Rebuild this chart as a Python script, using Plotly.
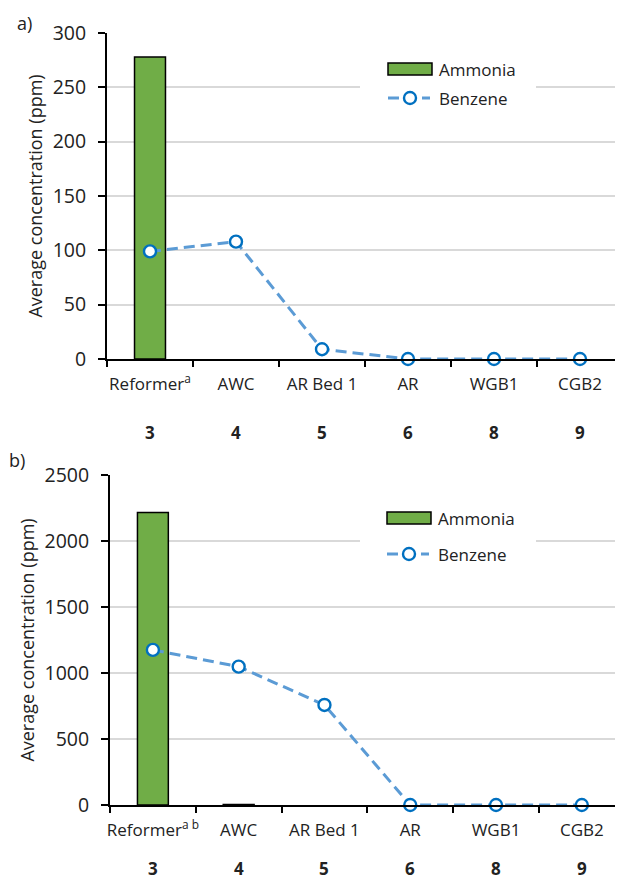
import plotly.graph_objects as go

categories = ["Reformer<sup>a</sup>", "AWC", "AR Bed 1", "AR", "WGB1", "CGB2"]
categories_b = ["Reformer<sup>a b</sup>", "AWC", "AR Bed 1", "AR", "WGB1", "CGB2"]
stream_numbers = ["3", "4", "5", "6", "8", "9"]
series_names = ["Ammonia", "Benzene"]

ammonia_a = [278, None, None, None, None, None]
benzene_a = [99, 108, 9, 0, 0, 0]

ammonia_b = [2215, 4, None, None, None, None]
benzene_b = [1175, 1048, 758, 0, 0, 0]

FONT = "Open Sans"
TXT = "#222"
GREEN = "#70AD47"
LINEBLUE = "#5B9BD5"
MARKBLUE = "#0070C0"
DASH = "11px,6px"
OFF = 8  # page body margin
W, H = 623 - OFF, 880 - OFF


def px(x):
    return (x - OFF) / W


def py(y):
    return 1 - (y - OFF) / H


fig = go.Figure()


def add_traces(xa, ya, cats, amm, benz):
    fig.add_trace(go.Bar(
        x=cats, y=amm, name=series_names[0], xaxis=xa, yaxis=ya,
        marker=dict(color=GREEN, line=dict(color="black", width=1.5)),
        showlegend=False,
    ))
    fig.add_trace(go.Scatter(
        x=cats, y=benz, name=series_names[1], xaxis=xa, yaxis=ya,
        mode="lines+markers",
        line=dict(color=LINEBLUE, width=3, dash=DASH),
        marker=dict(size=12, color="white", line=dict(color=MARKBLUE, width=2.4)),
        showlegend=False, cliponaxis=False,
    ))


add_traces("x", "y", categories, ammonia_a, benzene_a)
add_traces("x2", "y2", categories_b, ammonia_b, benzene_b)


def xaxis_cfg(domain, rng, anchor):
    return dict(
        domain=domain, anchor=anchor, type="category", range=rng, showgrid=False,
        showline=True, linecolor="black", linewidth=2,
        ticks="outside", tickson="boundaries", ticklen=6, tickwidth=2, tickcolor="black",
        tickfont=dict(family=FONT, size=17, color=TXT), tickangle=0,
        automargin=False, ticklabelstandoff=9,
    )


def yaxis_cfg(domain, anchor, rng, dtick):
    return dict(
        domain=domain, anchor=anchor, range=rng, dtick=dtick,
        showgrid=True, gridcolor="#D9D9D9", gridwidth=1.5,
        showline=True, linecolor="black", linewidth=2, zeroline=False,
        ticks="outside", ticklen=7, tickwidth=2, tickcolor="black",
        tickfont=dict(family=FONT, size=19.5, color=TXT), automargin=False,
        ticklabelstandoff=8,
        title=dict(text="Average concentration (ppm)",
                   font=dict(family=FONT, size=18, color=TXT), standoff=5),
    )


fig.update_layout(
    width=W, height=H,
    margin=dict(l=0, r=0, t=0, b=0),
    paper_bgcolor="white", plot_bgcolor="white",
    bargap=0.64,
    xaxis=xaxis_cfg([px(107), 1.0], [-0.5, 5.5], "y"),
    yaxis=yaxis_cfg([py(359), py(33)], "x", [0, 300], 50),
    xaxis2=xaxis_cfg([px(110), 1.0], [-0.5, 5.48], "y2"),
    yaxis2=yaxis_cfg([py(805), py(475)], "x2", [0, 2500], 500),
    showlegend=False,
)

# ---- hand-drawn legends (Excel style: wide bar swatch, dashed line with marker)
shapes = []
annotations = []


def legend_block(x0, y_amm, y_ben, box):
    bx0, by0, bx1, by1 = box
    shapes.append(dict(type="rect", xref="paper", yref="paper", layer="above",
                       x0=px(bx0), x1=px(bx1), y0=py(by1), y1=py(by0),
                       fillcolor="white", line=dict(width=0)))
    shapes.append(dict(type="rect", xref="paper", yref="paper", layer="above",
                       x0=px(x0), x1=px(x0 + 44), y0=py(y_amm + 6), y1=py(y_amm - 6),
                       fillcolor=GREEN, line=dict(color="black", width=1.5)))
    shapes.append(dict(type="line", xref="paper", yref="paper", layer="above",
                       x0=px(x0), x1=px(x0 + 42), y0=py(y_ben), y1=py(y_ben),
                       line=dict(color=LINEBLUE, width=3, dash=DASH)))
    shapes.append(dict(type="circle", xref="paper", yref="paper", layer="above",
                       x0=px(x0 + 22 - 6), x1=px(x0 + 22 + 6),
                       y0=py(y_ben + 6), y1=py(y_ben - 6),
                       fillcolor="white", line=dict(color=MARKBLUE, width=2.4)))
    for name, yy in zip(series_names, [y_amm, y_ben]):
        annotations.append(dict(x=px(x0 + 49), y=py(yy), xref="paper", yref="paper",
                                text=name, showarrow=False, xanchor="left", yanchor="middle",
                                font=dict(family=FONT, size=17, color=TXT)))


legend_block(388, 69, 98, (360, 52, 536, 116))
legend_block(387, 518, 554, (360, 498, 536, 574))

for i, n in enumerate(stream_numbers):
    annotations.append(dict(x=categories[i], y=py(432), xref="x", yref="paper",
                            text="<b>%s</b>" % n, showarrow=False,
                            xanchor="center", yanchor="middle",
                            font=dict(family=FONT, size=17, color=TXT)))
    annotations.append(dict(x=categories_b[i], y=py(868), xref="x2", yref="paper",
                            text="<b>%s</b>" % n, showarrow=False,
                            xanchor="center", yanchor="middle",
                            font=dict(family=FONT, size=17, color=TXT)))
annotations.append(dict(x=px(24), y=py(23), xref="paper", yref="paper", text="a)",
                        showarrow=False, xanchor="center", yanchor="middle",
                        font=dict(family=FONT, size=18, color=TXT)))
annotations.append(dict(x=px(17), y=py(460), xref="paper", yref="paper", text="b)",
                        showarrow=False, xanchor="center", yanchor="middle",
                        font=dict(family=FONT, size=18, color=TXT)))
fig.update_layout(annotations=annotations, shapes=shapes)

fig.write_html("out.html")
